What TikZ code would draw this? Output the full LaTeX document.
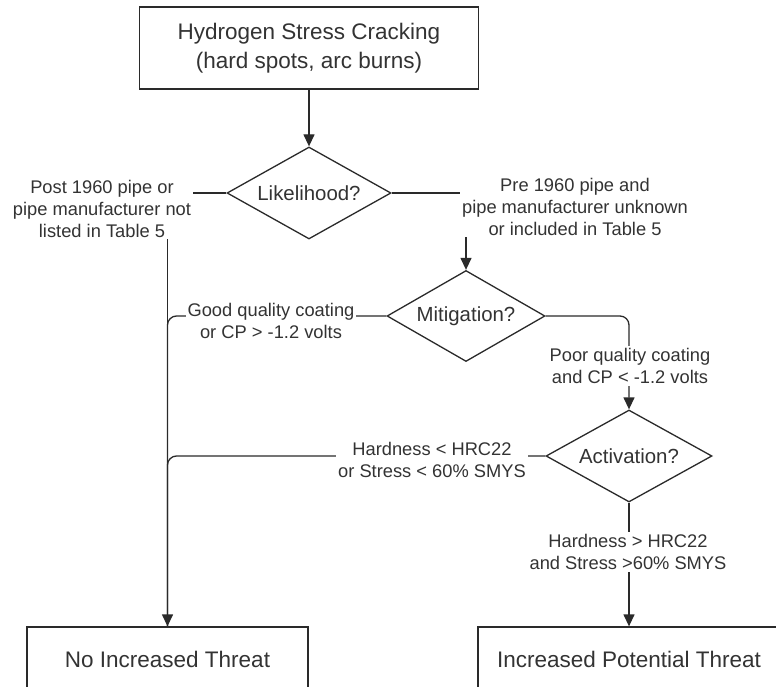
\documentclass[tikz,border=0pt]{standalone}
\usepackage{fontspec}
\setmainfont{Liberation Sans}
\usetikzlibrary{shapes.geometric,arrows.meta}
\definecolor{ln}{HTML}{2A2A2A}
\definecolor{tx}{HTML}{333333}
\begin{document}
\begin{tikzpicture}[x=1pt,y=-1pt,
  box/.style={draw=ln, line width=1.3pt, rectangle, align=center, inner sep=0pt,
    font=\fontsize{22.5}{29}\selectfont, text=tx},
  dec/.style={draw=ln, line width=1.3pt, diamond, shape aspect=1.8, inner sep=0pt,
    font=\fontsize{20.4}{24}\selectfont, text=tx},
  lbl/.style={fill=white, inner sep=2pt, align=center,
    font=\fontsize{18.3}{21.7}\selectfont, text=tx},
  conn/.style={draw=ln, line width=1.3pt},
  arr/.style={conn, -{Triangle[width=11pt,length=12pt]}}]
\clip (0,0) rectangle (776,687);
\fill[white] (0,0) rectangle (776,687);
% nodes
\node[box, minimum width=339pt, minimum height=82pt] (top) at (309,48) {Hydrogen Stress Cracking\\(hard spots, arc burns)};
\node[dec, minimum width=164pt, minimum height=92pt] (lik) at (309,193) {Likelihood?};
\node[dec, minimum width=158pt, minimum height=91pt] (mit) at (466,316) {Mitigation?};
\node[dec, minimum width=166pt, minimum height=92pt] (act) at (629,456) {Activation?};
\node[box, minimum width=281pt, minimum height=64pt] (noinc) at (167.5,659) {No Increased Threat};
\node[box, minimum width=302pt, minimum height=64pt] (inc) at (629,659) {Increased Potential Threat};
% connectors
\draw[arr] (top.south) -- (lik.north);
\draw[arr] (lik.west) -| (noinc.north);
\draw[arr] (lik.east) -| (mit.north);
\draw[conn, rounded corners=9pt] (mit.west) -| (noinc.north);
\draw[arr, rounded corners=9pt] (mit.east) -| (act.north);
\draw[conn, rounded corners=9pt] (act.west) -| (noinc.north);
\draw[arr] (act.south) -- (inc.north);
% labels
\node[lbl] (l1) at (102,209) {Post 1960 pipe or\\pipe manufacturer not\\listed in Table 5};
\node[lbl] (l2) at (575,207) {Pre 1960 pipe and\\pipe manufacturer unknown\\or included in Table 5};
\node[lbl] (l3) at (271,321) {Good quality coating\\or CP > -1.2 volts};
\node[lbl] (l4) at (630,366) {Poor quality coating\\and CP < -1.2 volts};
\node[lbl] (l5) at (432,460) {Hardness < HRC22\\or Stress < 60\% SMYS};
\node[lbl] (l6) at (628,552) {Hardness > HRC22\\and Stress >60\% SMYS};
\end{tikzpicture}
\end{document}
